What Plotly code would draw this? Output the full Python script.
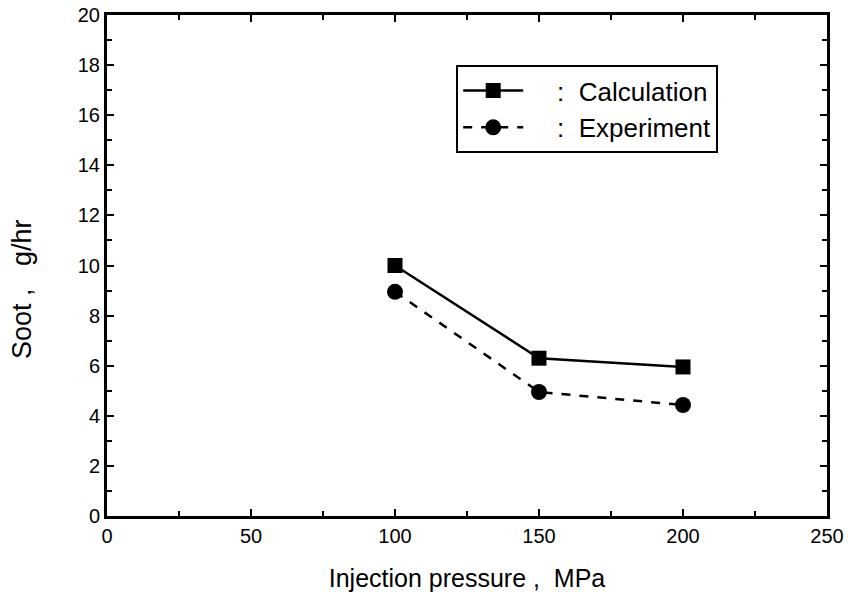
import plotly.graph_objects as go

pressure = [100, 150, 200]
calc = [10.0, 6.3, 5.95]
expt = [8.95, 4.95, 4.43]

fig = go.Figure()
fig.add_trace(go.Scatter(x=pressure, y=calc, mode="lines+markers", name="    :  Calculation",
                         line=dict(color="black", width=2.5, dash="solid"),
                         marker=dict(symbol="square", size=15, color="black")))
fig.add_trace(go.Scatter(x=pressure, y=expt, mode="lines+markers", name="    :  Experiment",
                         line=dict(color="black", width=2.5, dash="dash"),
                         marker=dict(symbol="circle", size=16, color="black")))

font = "Liberation Sans, Arial, sans-serif"
axis_common = dict(showline=True, linecolor="black", linewidth=3, mirror="ticks",
                   ticks="inside", ticklen=7, tickwidth=2, tickcolor="black",
                   showgrid=False, zeroline=False, automargin=False,
                   tickfont=dict(family=font, size=20, color="black"))
fig.update_xaxes(range=[0, 250], dtick=50, title=dict(text="Injection pressure ,  MPa",
                 font=dict(family=font, size=25, color="black"), standoff=24),
                 minor=dict(dtick=25, ticks="inside", ticklen=5, tickwidth=2, tickcolor="black"),
                 **axis_common)
fig.update_yaxes(range=[0, 20], dtick=2,
                 minor=dict(dtick=1, ticks="inside", ticklen=5, tickwidth=2, tickcolor="black"),
                 **axis_common)
fig.add_annotation(text="Soot ,   g/hr", textangle=-90, xref="paper", yref="paper",
                   x=-0.118, y=0.453, xanchor="center", yanchor="middle", showarrow=False,
                   font=dict(family=font, size=27, color="black"))
fig.update_layout(width=848, height=596, plot_bgcolor="white", paper_bgcolor="white",
                  margin=dict(l=107, r=21, t=15, b=80),
                  legend=dict(x=0.485, y=0.9, xanchor="left", yanchor="top",
                              bordercolor="black", borderwidth=2, bgcolor="white",
                              font=dict(family=font, size=26, color="black"),
                              itemwidth=60),
                  showlegend=True)
fig.write_html("out.html")
